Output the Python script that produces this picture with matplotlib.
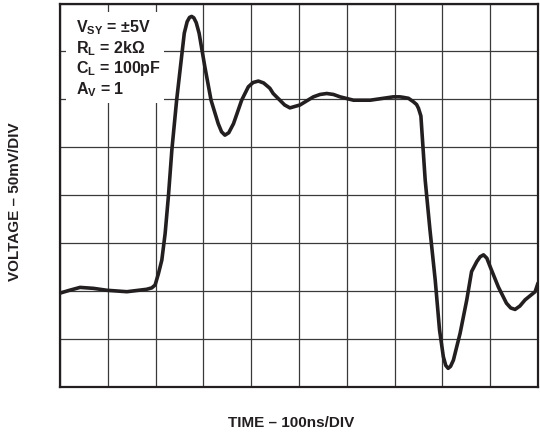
import matplotlib
matplotlib.use("Agg")
import matplotlib.pyplot as plt
from matplotlib.patches import Rectangle

plt.rcParams['font.family'] = ['Liberation Sans', 'DejaVu Sans']
plt.rcParams['mathtext.fontset'] = 'custom'
plt.rcParams['mathtext.rm'] = 'Liberation Sans:bold'
plt.rcParams['mathtext.bf'] = 'Liberation Sans:bold'

tiempo_div = [0.0, 0.2, 0.42, 0.7, 0.98, 1.4, 1.81, 1.92, 1.99, 2.06, 2.13, 2.2, 2.27, 2.34, 2.44,
              2.52, 2.60, 2.66, 2.71, 2.755, 2.8, 2.85, 2.91, 3.03, 3.16, 3.31, 3.38, 3.45, 3.53,
              3.63, 3.80, 3.94, 4.04, 4.15, 4.26, 4.39, 4.46, 4.60, 4.70, 4.81, 5.02, 5.30, 5.44,
              5.58, 5.72, 5.86, 6.14, 6.49, 6.97, 7.11, 7.18, 7.29, 7.39, 7.46, 7.50, 7.55, 7.64,
              7.74, 7.85, 7.94, 8.02, 8.07, 8.12, 8.17, 8.23, 8.37, 8.51, 8.61, 8.72, 8.79, 8.86,
              8.93, 9.0, 9.17, 9.34, 9.43, 9.52, 9.62, 9.73, 9.94, 10.0]
voltaje_div = [1.95, 2.01, 2.07, 2.05, 2.01, 1.98, 2.03, 2.06, 2.12, 2.36, 2.64, 3.2, 4.0, 4.94, 5.98,
               6.68, 7.38, 7.62, 7.71, 7.73, 7.70, 7.60, 7.38, 6.68, 5.98, 5.49, 5.32, 5.25, 5.30,
               5.49, 5.98, 6.26, 6.35, 6.38, 6.34, 6.23, 6.12, 5.98, 5.88, 5.82, 5.88, 6.05, 6.10,
               6.12, 6.10, 6.05, 5.98, 5.98, 6.05, 6.05, 6.04, 6.02, 5.95, 5.89, 5.81, 5.65, 4.31,
               3.27, 2.22, 1.18, 0.62, 0.44, 0.38, 0.42, 0.55, 1.11, 1.81, 2.40, 2.61, 2.71, 2.75,
               2.68, 2.50, 2.08, 1.74, 1.64, 1.61, 1.68, 1.81, 1.98, 2.16]

condiciones = [r'V$_{\mathbf{SY}}$ = ±5V', r'R$_{\mathbf{L}}$ = 2kΩ',
               r'C$_{\mathbf{L}}$ = 100pF', r'A$_{\mathbf{V}}$ = 1']

fig = plt.figure(figsize=(5.4, 4.33), dpi=100)
ax = fig.add_axes([60 / 540, 1 - 386.5 / 433, 478 / 540, 383 / 433])
ax.set_xlim(0, 10)
ax.set_ylim(0, 8)
ax.set_xticks(range(11))
ax.set_yticks(range(9))
ax.tick_params(length=0, labelbottom=False, labelleft=False)
ax.grid(True, color='#3a3a3a', linewidth=0.9)
for s in ax.spines.values():
    s.set_linewidth(1.6)
    s.set_color('#231f20')

# recuadro blanco para las condiciones
ax.add_patch(Rectangle((0.125, 5.92), 2.05, 1.9, facecolor='white', edgecolor='none', zorder=2))
ax.plot(tiempo_div, voltaje_div, color='#231f20', linewidth=2.6, solid_joinstyle='round',
        solid_capstyle='round', zorder=3)

for i, txt in enumerate(condiciones):
    ax.text((76 - 60) / 47.8, (386.5 - (27.5 + 20.5 * i)) / 47.9, txt,
            fontsize=11.5, fontweight='bold', va='center', ha='left', color='#231f20', zorder=4)

fig.text(291 / 540, 1 - 423 / 433, 'TIME – 100ns/DIV', ha='center', va='center',
         fontsize=11, fontweight='bold', color='#231f20')
fig.text(15 / 540, 1 - 202 / 433, 'VOLTAGE – 50mV/DIV', ha='center', va='center',
         rotation=90, fontsize=11, fontweight='bold', color='#231f20')

fig.savefig('out.png', dpi=100)
